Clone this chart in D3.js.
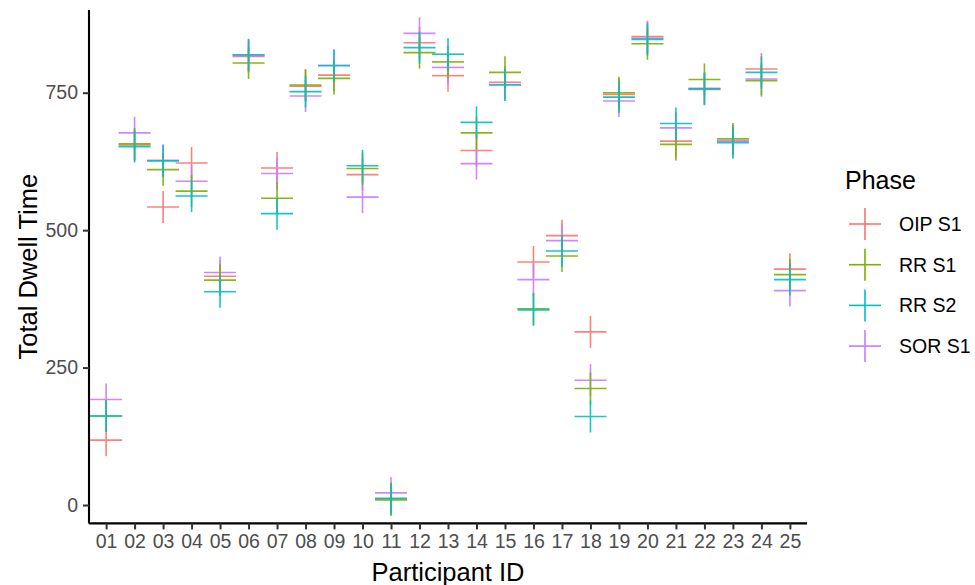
<!DOCTYPE html>
<html>
<head>
<meta charset="utf-8">
<script src="https://cdn.jsdelivr.net/npm/d3@7"></script>
<style>
  html, body { margin: 0; padding: 0; background: #fff; }
  text { font-family: "Liberation Sans", Arial, sans-serif; }
</style>
</head>
<body>
<svg id="chart" width="975" height="585"></svg>
<script>
const participants = ["01","02","03","04","05","06","07","08","09","10","11","12","13","14","15","16","17","18","19","20","21","22","23","24","25"];
const phases = ["OIP S1", "RR S1", "RR S2", "SOR S1"];
const oipS1 = [118, 655, 542, 622, 416, 816, 613, 762, 782, 601, 11, 841, 781, 645, 769, 442, 490, 315, 747, 852, 662, 756, 662, 793, 429];
const rrS1  = [162, 657, 610, 571, 409, 804, 558, 764, 776, 612, 9, 823, 806, 677, 787, 357, 453, 212, 750, 839, 656, 774, 666, 772, 419];
const rrS2  = [162, 652, 626, 562, 388, 819, 530, 752, 799, 617, 12, 832, 820, 696, 764, 355, 462, 161, 742, 847, 694, 757, 659, 787, 410];
const sorS1 = [192, 677, 627, 589, 423, 818, 603, 744, 800, 560, 22, 858, 796, 621, 765, 410, 481, 227, 735, 849, 686, 758, 662, 775, 390];
const yTicks = [0, 250, 500, 750];
const colors = ["#F8766D", "#7CAE00", "#00BFC4", "#C77CFF"];

const seriesValues = [oipS1, rrS1, rrS2, sorS1];
const data = [];
phases.forEach((ph, i) => {
  participants.forEach((p, j) => data.push({ participant: p, phase: ph, value: seriesValues[i][j] }));
});
const drawOrder = ["OIP S1", "SOR S1", "RR S1", "RR S2"];
data.sort((a, b) => drawOrder.indexOf(a.phase) - drawOrder.indexOf(b.phase));

const svg = d3.select("#chart");
const pLeft = 89, pRight = 807, pTop = 10, pBottom = 523.4;

const x = d3.scalePoint().domain(participants).range([pLeft, pRight]).padding(0.6);
const vals = data.map(d => d.value);
const vmin = d3.min(vals), vmax = d3.max(vals);
const pad = (vmax - vmin) * 0.05;
const y = d3.scaleLinear().domain([vmin - pad, vmax + pad]).range([pBottom, pTop]);
const color = d3.scaleOrdinal().domain(phases).range(colors);

const arm = 16;
const pts = svg.append("g").selectAll("g").data(data).join("g")
  .attr("transform", d => `translate(${x(d.participant)},${y(d.value)})`)
  .attr("stroke", d => color(d.phase))
  .attr("stroke-width", 1.6)
  .attr("opacity", 0.9);
pts.append("line").attr("x1", -arm).attr("x2", arm).attr("y1", 0).attr("y2", 0);
pts.append("line").attr("x1", 0).attr("x2", 0).attr("y1", -arm).attr("y2", arm);

const xAxis = svg.append("g").attr("transform", `translate(0,${pBottom})`)
  .call(d3.axisBottom(x).tickSize(6).tickPadding(5));
const yAxis = svg.append("g").attr("transform", `translate(${pLeft},0)`)
  .call(d3.axisLeft(y).tickValues(yTicks).tickSize(6).tickPadding(5));
[xAxis, yAxis].forEach(a => {
  a.select(".domain").attr("stroke", "#000").attr("stroke-width", 2.1);
  a.selectAll(".tick line").attr("stroke", "#333").attr("stroke-width", 2);
  a.selectAll(".tick text").attr("fill", "#4D4D4D").style("font-size", "19.5px");
});
xAxis.select(".domain").attr("d", `M${pLeft},0H${pRight}`);
yAxis.select(".domain").attr("d", `M0,${pBottom}V${pTop}`);

svg.append("text").attr("x", (pLeft + pRight) / 2).attr("y", 581)
  .attr("text-anchor", "middle").style("font-size", "25.5px").attr("fill", "#000")
  .text("Participant ID");
svg.append("text").attr("transform", `translate(37,${(pTop + pBottom) / 2}) rotate(-90)`)
  .attr("text-anchor", "middle").style("font-size", "25.5px").attr("fill", "#000")
  .text("Total Dwell Time");

const lg = svg.append("g");
lg.append("text").attr("x", 845).attr("y", 189).style("font-size", "25px").attr("fill", "#000").text("Phase");
const items = lg.selectAll("g.item").data(phases).join("g").attr("class", "item")
  .attr("transform", (d, i) => `translate(865,${224 + i * 40.7})`);
items.append("line").attr("x1", -arm).attr("x2", arm).attr("stroke", d => color(d)).attr("stroke-width", 1.6);
items.append("line").attr("y1", -arm).attr("y2", arm).attr("stroke", d => color(d)).attr("stroke-width", 1.6);
items.append("text").attr("x", 34).attr("dy", "0.35em").style("font-size", "19.5px").attr("fill", "#000").text(d => d);
</script>
</body>
</html>
